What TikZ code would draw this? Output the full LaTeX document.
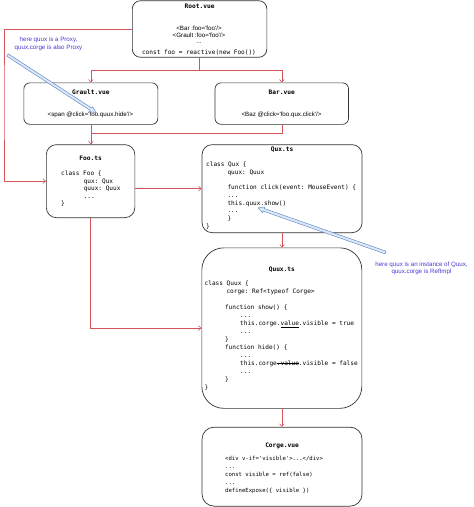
\documentclass[tikz,border=0pt]{standalone}
\usepackage{fontspec}
\setmainfont{Liberation Sans}
\setmonofont{DejaVu Sans Mono}
\usetikzlibrary{arrows.meta,calc}

\definecolor{linkred}{RGB}{214,84,94}
\definecolor{notecolor}{RGB}{72,58,212}
\definecolor{calloutline}{RGB}{108,142,191}
\definecolor{calloutfill}{RGB}{218,232,252}

\newcommand{\sq}{\textquotesingle}
\newcommand{\strikeword}[1]{\leavevmode\setbox0=\hbox{#1}\rlap{\rule[0.28em]{\wd0}{0.45pt}}\box0}

\begin{document}
\begin{tikzpicture}[x=1pt,y=-1pt,
    box/.style={draw=black!80, line width=0.7pt, anchor=north west, inner sep=0pt},
    title/.style={font=\fontsize{6.2}{7}\selectfont\ttfamily\bfseries, anchor=base, inner sep=0pt},
    html/.style={font=\fontsize{6.2}{7}\selectfont, anchor=base, inner sep=0pt},
    code/.style={font=\fontsize{6.1}{7.8}\selectfont\ttfamily, anchor=base west, align=left, inner sep=0pt},
    note/.style={font=\fontsize{6.2}{7.6}\selectfont, text=notecolor, align=center, inner sep=0pt},
    link/.style={draw=linkred, line width=0.6pt, -{Straight Barb[length=2.6pt,width=4.6pt]}},
    wire/.style={draw=linkred, line width=0.6pt},
    callout/.style={draw=calloutline, fill=calloutfill, line width=0.5pt, line join=round}]

   \fill [white] (0,0) rectangle (474,507);
   \useasboundingbox (0,0) rectangle (474,507);

   % Boxes
   \node[box, rounded corners=8pt, minimum width=134.5pt, minimum height=56.5pt] (root) at (132,0.4) {};
   \node[box, rounded corners=6pt, minimum width=134pt, minimum height=41.5pt] (grault) at (23.5,82.5) {};
   \node[box, rounded corners=6pt, minimum width=133.5pt, minimum height=41.5pt] (bar) at (214.7,82.5) {};
   \node[box, rounded corners=10pt, minimum width=88.5pt, minimum height=73pt] (foo) at (46,144.3) {};
   \node[box, rounded corners=10pt, minimum width=160pt, minimum height=88pt] (qux) at (201.7,144.3) {};
   \node[box, rounded corners=22pt, minimum width=160pt, minimum height=160.5pt] (quux) at (201.5,247.5) {};
   \node[box, rounded corners=12pt, minimum width=160pt, minimum height=79pt] (corge) at (201.7,426.8) {};

   % Root.vue
   \node[title] at ($(root.north)+(0,7.8)$) {Root.vue};
   \node[html] at (199,30) {<Bar :foo=\sq foo\sq/>};
   \node[html] at (199,37) {<Grault :foo=\sq foo\sq/>};
   \node[html] at (199,43.5) {...};
   \node[code, anchor=base] at (199,54) {const foo = reactive(new Foo())};

   % Grault.vue and Bar.vue
   \node[title] at ($(grault.north)+(0,11.8)$) {Grault.vue};
   \node[html] at (90.5,116.5) {<span @click=\sq foo.quux.hide\sq/>};
   \node[title] at ($(bar.north)+(0,11.8)$) {Bar.vue};
   \node[html] at (281.5,116.5) {<Baz @click=\sq foo.qux.click\sq/>};

   % Foo.ts (placed by the baseline of the last line)
   \node[title] at ($(foo.north)+(0,15.8)$) {Foo.ts};
   \node[code, font=\fontsize{6.1}{7.5}\selectfont\ttfamily] (foocode) at (61,205.5)
     {class Foo \{\\
      \hspace*{22.6pt}qux: Qux\\
      \hspace*{22.6pt}quux: Quux\\
      \hspace*{22.6pt}...\\
      \}};

   % Qux.ts
   \node[title] at ($(qux.north)+(0,7.3)$) {Qux.ts};
   \node[code, font=\fontsize{6.1}{7.7}\selectfont\ttfamily] (quxcode) at (206,228.1)
     {class Qux \{\\
      \hspace*{21.3pt}quux: Quux\\
      ~\\
      \hspace*{21.3pt}function click(event: MouseEvent) \{\\
      \hspace*{21.3pt}...\\
      \hspace*{21.3pt}this.quux.show()\\
      \hspace*{21.3pt}...\\
      \hspace*{21.3pt}\}\\
      \}};

   % Quux.ts
   \node[title] at ($(quux.north)+(0,24)$) {Quux.ts};
   \node[code, font=\fontsize{6.1}{8}\selectfont\ttfamily] (quuxcode) at (204.5,389.5)
     {class Quux \{\\
      \hspace*{21.8pt}corge: Ref<typeof Corge>\\
      ~\\
      \hspace*{20.3pt}function show() \{\\
      \hspace*{35.5pt}...\\
      \hspace*{35.5pt}this.corge.\underline{value}.visible = true\\
      \hspace*{35.5pt}...\\
      \hspace*{20.3pt}\}\\
      \hspace*{20.3pt}function hide() \{\\
      \hspace*{35.5pt}...\\
      \hspace*{35.5pt}this.corge\strikeword{.value}.visible = false\\
      \hspace*{35.5pt}...\\
      \hspace*{20.3pt}\}\\
      \}};

   % Corge.vue
   \node[title] at ($(corge.north)+(0,20.3)$) {Corge.vue};
   \node[code, font=\fontsize{5.6}{7.9}\selectfont\ttfamily] (corgecode) at (225,492.1)
     {<div v-if=\sq visible\sq>...</div>\\
      ...\\
      const visible = ref(false)\\
      ...\\
      defineExpose(\{ visible \})};

   % Connectors
   \coordinate (rootfork) at (root.south |- 0,70);
   \coordinate (leftrail) at (4,100);
   \coordinate (barjoin) at (grault.south |- 0,133.3);
   \draw[wire] (root.south) -- (rootfork);
   \draw[link] (rootfork) -| (grault.north);
   \draw[link] (rootfork) -| (bar.north);
   \draw[link] (root.west) -| (leftrail) |- (foo.west);
   \draw[link] (grault.south) -- (grault.south |- foo.north);
   \draw[wire] (bar.south) |- (barjoin);
   \draw[link] (foo.east |- qux.west) -- (qux.west);
   \draw[link] (qux.south) -- (qux.south |- quux.north);
   \draw[link] (foo.south) |- (quux.west);
   \draw[link] (quux.south) -- (quux.south |- corge.north);

   % Notes
   \node[note] (proxynote) at (48.5,44) {here quux is a Proxy,\\quux.corge is also Proxy};
   \node[note] (refnote) at (421.5,268.3) {here quux is an instance of Quux,\\quux.corge is RefImpl};

   % Callout arrows
   \coordinate (proxytail) at (7.5,55);
   \coordinate (proxyhead) at (96,112.5);
   \coordinate (proxybase) at ($(proxyhead)!6pt!(proxytail)$);
   \filldraw[callout] ($(proxytail)!1.4pt!90:(proxyhead)$) -- ($(proxybase)!1.4pt!90:(proxyhead)$)
     -- ($(proxybase)!3pt!90:(proxyhead)$) -- (proxyhead) -- ($(proxybase)!3pt!-90:(proxyhead)$)
     -- ($(proxybase)!1.4pt!-90:(proxyhead)$) -- ($(proxytail)!1.4pt!-90:(proxyhead)$) -- cycle;

   \coordinate (reftail) at (385.5,252.5);
   \coordinate (refhead) at (258,207.8);
   \coordinate (refbase) at ($(refhead)!6pt!(reftail)$);
   \filldraw[callout] ($(reftail)!1.4pt!90:(refhead)$) -- ($(refbase)!1.4pt!90:(refhead)$)
     -- ($(refbase)!3pt!90:(refhead)$) -- (refhead) -- ($(refbase)!3pt!-90:(refhead)$)
     -- ($(refbase)!1.4pt!-90:(refhead)$) -- ($(reftail)!1.4pt!-90:(refhead)$) -- cycle;
\end{tikzpicture}
\end{document}
